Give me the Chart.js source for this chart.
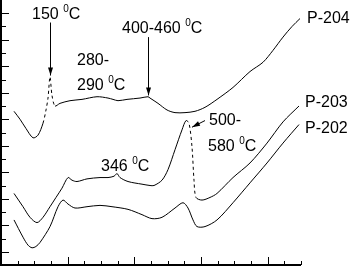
<!DOCTYPE html>
<html lang="en">
	<head>
		<meta charset="UTF-8">
		<script src="https://cdn.jsdelivr.net/npm/chart.js"></script>
		<title>DTA curves</title>
		<style>
			html, body { margin: 0; padding: 0; background: #fff; }
			#box { width: 352px; height: 266px; }
		</style>
	</head>
	<body>
		<div id="box"><canvas id="dtaChart" width="352" height="266"></canvas></div>
		<script>
			// temperature, degC
			var temps204 = [39, 57, 75, 96, 111, 126, 135, 141, 147, 153, 162, 177, 207, 243, 288, 321, 336, 351, 378, 417, 441, 447, 471, 498, 522, 552, 582, 612, 648, 696, 747, 786, 816, 846, 873, 897];
			var vals204 = [11.6, 11.0, 10.3, 9.6, 9.8, 10.7, 11.7, 12.6, 14.2, 12.8, 12.0, 12.2, 12.4, 12.5, 12.7, 12.6, 12.5, 12.4, 12.5, 12.6, 12.7, 12.6, 12.2, 11.7, 11.5, 11.5, 11.6, 11.9, 12.5, 13.4, 14.6, 15.3, 16.2, 17.2, 18.0, 18.6];

			var temps203 = [39, 66, 87, 108, 126, 147, 165, 183, 201, 213, 228, 258, 297, 321, 339, 348, 357, 381, 423, 447, 459, 483, 501, 522, 543, 555, 564, 573, 579, 585, 603, 627, 648, 696, 747, 798, 846, 894];
			var vals203 = [5.4, 4.4, 3.6, 3.2, 3.6, 4.4, 5.1, 5.8, 6.6, 6.4, 6.3, 6.5, 6.6, 6.6, 6.7, 6.9, 6.6, 6.3, 6.1, 6.0, 6.0, 6.4, 7.2, 8.7, 10.2, 10.9, 10.7, 8.9, 6.4, 5.1, 4.9, 5.1, 5.4, 6.6, 7.7, 9.2, 10.8, 12.0];

			var temps202 = [39, 66, 81, 93, 105, 117, 147, 171, 186, 201, 222, 258, 297, 333, 381, 423, 453, 483, 522, 546, 561, 576, 588, 612, 648, 696, 747, 798, 846, 894];
			var vals202 = [3.4, 2.1, 1.5, 1.3, 1.4, 1.7, 2.9, 4.4, 4.9, 4.6, 4.3, 4.4, 4.5, 4.4, 4.2, 3.8, 3.5, 3.6, 4.3, 4.7, 4.3, 3.4, 2.9, 2.9, 3.4, 4.7, 6.2, 7.7, 9.2, 10.6];

			var seriesNames = ['P-204', 'P-203', 'P-202'];
			var xTicks = [0, 50, 100, 150, 200, 250, 300, 350, 400, 450, 500, 550, 600, 650, 700, 750, 800, 850, 900];
			var yTicks = [1, 2, 3, 4, 5, 6, 7, 8, 9, 10, 11, 12, 13, 14, 15, 16, 17, 18, 19];

			function pts(t, v) {
				return t.map(function (x, i) { return { x: x, y: v[i] }; });
			}
			function dashBetween(a, b) {
				return function (ctx) {
					return (ctx.p0.parsed.x >= a && ctx.p1.parsed.x <= b) ? [3, 3] : undefined;
				};
			}

			var FONT = '16px "Liberation Sans", Arial, sans-serif';
			var SUP = '10px "Liberation Sans", Arial, sans-serif';

			// text followed by " °C" with raised zero
			function degText(c, txt, x, y) {
				c.font = FONT;
				c.fillText(txt + ' ', x, y);
				var w = c.measureText(txt + ' ').width;
				c.font = SUP;
				c.fillText('0', x + w, y - 7);
				var w2 = c.measureText('0').width;
				c.font = FONT;
				c.fillText('C', x + w + w2, y);
			}
			function arrow(c, x1, y1, x2, y2) {
				c.beginPath();
				c.moveTo(x1, y1);
				c.lineTo(x2, y2);
				c.stroke();
				var a = Math.atan2(y2 - y1, x2 - x1);
				c.beginPath();
				c.moveTo(x2, y2);
				c.lineTo(x2 - 8 * Math.cos(a) + 2.5 * Math.sin(a), y2 - 8 * Math.sin(a) - 2.5 * Math.cos(a));
				c.lineTo(x2 - 8 * Math.cos(a) - 2.5 * Math.sin(a), y2 - 8 * Math.sin(a) + 2.5 * Math.cos(a));
				c.closePath();
				c.fill();
			}

			var decor = {
				id: 'decor',
				afterDatasetsDraw: function (chart) {
					var c = chart.ctx;
					var xs = chart.scales.x, ys = chart.scales.y;
					var a = chart.chartArea;
					var X = function (t) { return xs.getPixelForValue(t); };
					var Y = function (v) { return ys.getPixelForValue(v); };
					c.save();
					c.fillStyle = '#000';
					c.strokeStyle = '#000';

					// axes
					c.lineWidth = 2;
					c.beginPath();
					c.moveTo(a.left, 0);
					c.lineTo(a.left, a.bottom);
					c.lineTo(a.right, a.bottom);
					c.stroke();
					c.lineWidth = 1;
					xTicks.forEach(function (t) {
						var len = (t % 200 === 0) ? 8 : 4;
						var x = Math.round(X(t)) + 0.5;
						c.beginPath();
						c.moveTo(x, a.bottom);
						c.lineTo(x, a.bottom - len);
						c.stroke();
					});
					yTicks.forEach(function (v) {
						var len = (v % 2 === 1) ? 8 : 5;
						var y = Math.round(Y(v)) + 0.5;
						c.beginPath();
						c.moveTo(a.left, y);
						c.lineTo(a.left + len, y);
						c.stroke();
					});

					// annotations
					c.textBaseline = 'alphabetic';
					degText(c, '150', X(93), Y(18.55));
					degText(c, '400-460', X(363), Y(17.5));
					c.font = FONT;
					c.fillText('280-', X(228), Y(15.1));
					degText(c, '290', X(228), Y(13.2));
					degText(c, '346', X(300), Y(7.1));
					c.font = FONT;
					c.fillText('500-', X(624), Y(10.6));
					degText(c, '580', X(621), Y(8.6));

					arrow(c, X(147) + 0.5, Y(18.3), X(147) + 0.5, Y(14.3));
					arrow(c, X(441) + 0.5, Y(17.2), X(441) + 0.5, Y(12.8));
					arrow(c, X(612), Y(10.9), X(573), Y(10.4));

					// series labels with short leaders
					c.font = FONT;
					c.fillText(seriesNames[0], X(900) + 6, Y(18.3));
					c.fillText(seriesNames[1], X(900) + 4, Y(11.9));
					c.fillText(seriesNames[2], X(900) + 4, Y(10.0));
					c.restore();
				}
			};

			var ctx = document.getElementById('dtaChart').getContext('2d');
			new Chart(ctx, {
				type: 'line',
				data: {
					datasets: [
						{ label: seriesNames[0], data: pts(temps204, vals204), segment: { borderDash: dashBetween(120, 165) } },
						{ label: seriesNames[1], data: pts(temps203, vals203), segment: { borderDash: dashBetween(555, 590) } },
						{ label: seriesNames[2], data: pts(temps202, vals202) }
					]
				},
				options: {
					responsive: false,
					animation: false,
					parsing: false,
					layout: { padding: { left: 1, right: 51, top: 0, bottom: 1 } },
					elements: {
						line: { borderColor: '#000', borderWidth: 1, tension: 0.3, fill: false },
						point: { radius: 0 }
					},
					plugins: { legend: { display: false }, tooltip: { enabled: false } },
					scales: {
						x: { type: 'linear', min: 0, max: 900, display: false },
						y: { type: 'linear', min: 0, max: 20, display: false }
					}
				},
				plugins: [decor]
			});
		</script>
	</body>
</html>
